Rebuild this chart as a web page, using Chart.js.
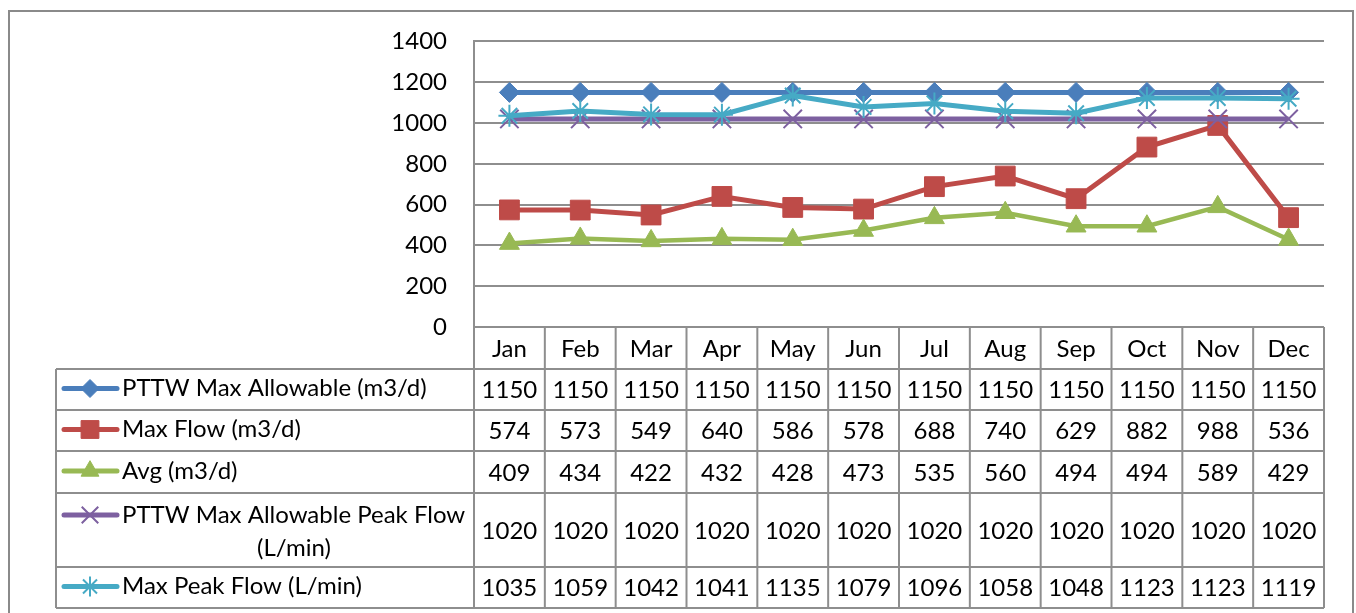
<!DOCTYPE html>
<html>
<head>
<meta charset="utf-8">
<script src="https://cdn.jsdelivr.net/npm/chart.js@4.4.0/dist/chart.umd.min.js"></script>
<style>
html, body { margin: 0; padding: 0; background: #fff; }
</style>
</head>
<body>
<canvas id="myChart" width="1356" height="613"></canvas>
<script>
// chart data
const months = ["Jan", "Feb", "Mar", "Apr", "May", "Jun", "Jul", "Aug", "Sep", "Oct", "Nov", "Dec"];
const seriesNames = [
    "PTTW Max Allowable (m3/d)",
    "Max Flow (m3/d)",
    "Avg (m3/d)",
    "PTTW Max Allowable Peak Flow (L/min)",
    "Max Peak Flow (L/min)"
];
const pttwMax = [1150, 1150, 1150, 1150, 1150, 1150, 1150, 1150, 1150, 1150, 1150, 1150];
const maxFlow = [574, 573, 549, 640, 586, 578, 688, 740, 629, 882, 988, 536];
const avgFlow = [409, 434, 422, 432, 428, 473, 535, 560, 494, 494, 589, 429];
const pttwPeak = [1020, 1020, 1020, 1020, 1020, 1020, 1020, 1020, 1020, 1020, 1020, 1020];
const maxPeak = [1035, 1059, 1042, 1041, 1135, 1079, 1096, 1058, 1048, 1123, 1123, 1119];
const yMin = 0, yMax = 1400, yStep = 200;

const allSeries = [pttwMax, maxFlow, avgFlow, pttwPeak, maxPeak];
const colors = ["#4a7ebb", "#be4b48", "#98b954", "#7d60a0", "#46aac5"];
const markers = [
    { style: "rectRot", r: 10, bw: 1 },
    { style: "rect", r: 14, bw: 1 },
    { style: "triangle", r: 11.5, bw: 1 },
    { style: "crossRot", r: 13, bw: 2 },
    { style: "star", r: 11, bw: 2 }
];

const FONT = "Lato";
const gridColor = "#8e8e8e";

const datasets = allSeries.map((vals, i) => ({
    label: seriesNames[i],
    data: vals,
    borderColor: colors[i],
    backgroundColor: colors[i],
    borderWidth: i == 2 ? 4.5 : 5,
    pointStyle: markers[i].style,
    pointRadius: markers[i].r,
    pointBorderWidth: markers[i].bw,
    pointBorderColor: colors[i],
    pointBackgroundColor: colors[i],
    tension: 0,
    order: 4 - i
}));

// data table under the plot, drawn from the x scale positions
const rowTops = [0, 42, 83, 124, 166, 240, 281];
const tableLeft = 56;

const dataTable = {
    id: "dataTable",
    afterDraw(chart) {
        const ctx = chart.ctx;
        const xs = chart.scales.x;
        const area = chart.chartArea;
        const half = (xs.getPixelForValue(1) - xs.getPixelForValue(0)) / 2;
        const colL = xs.getPixelForValue(0) - half;
        const colR = xs.getPixelForValue(months.length - 1) + half;
        const top = area.bottom;
        const ys = rowTops.map(v => top + v);

        ctx.save();
        // outer frame
        ctx.strokeStyle = "#8a8a8a";
        ctx.lineWidth = 2;
        ctx.strokeRect(9, 11, 1344, 620);

        ctx.strokeStyle = gridColor;
        ctx.lineWidth = 2;
        ctx.beginPath();
        for (let r = 1; r < ys.length; r++) {
            ctx.moveTo(tableLeft, ys[r]);
            ctx.lineTo(colR, ys[r]);
        }
        ctx.moveTo(tableLeft, ys[1]);
        ctx.lineTo(tableLeft, ys[ys.length - 1]);
        for (let c = 0; c <= months.length; c++) {
            const x = colL + c * 2 * half;
            ctx.moveTo(x, ys[0]);
            ctx.lineTo(x, ys[ys.length - 1]);
        }
        ctx.stroke();

        ctx.fillStyle = "#000";
        ctx.font = "24px " + FONT;
        ctx.textAlign = "center";
        ctx.textBaseline = "middle";
        months.forEach((m, i) => {
            ctx.fillText(m, xs.getPixelForValue(i), (ys[0] + ys[1]) / 2 + 1);
        });
        allSeries.forEach((vals, s) => {
            const yMid = (ys[s + 1] + ys[s + 2]) / 2 + 1;
            vals.forEach((v, i) => {
                ctx.fillText(String(v), xs.getPixelForValue(i), yMid);
            });

            // legend key
            ctx.strokeStyle = colors[s];
            ctx.lineWidth = 5;
            ctx.lineCap = "round";
            const ky = s == 3 ? ys[s + 1] + 22 : yMid - 2;
            ctx.beginPath();
            ctx.moveTo(64, ky);
            ctx.lineTo(117, ky);
            ctx.stroke();
            ctx.lineCap = "butt";
            ctx.fillStyle = colors[s];
            ctx.lineWidth = markers[s].bw;
            Chart.helpers.drawPoint(ctx, {
                pointStyle: markers[s].style,
                radius: markers[s].r * 0.9,
                rotation: 0,
                borderWidth: markers[s].bw
            }, 90, ky);

            ctx.fillStyle = "#000";
            ctx.textAlign = "left";
            if (s == 3) {
                ctx.fillText("PTTW Max Allowable Peak Flow", 122, ky);
                ctx.textAlign = "center";
                ctx.fillText("(L/min)", 294, ky + 33);
            } else {
                ctx.fillText(seriesNames[s], 122, yMid - 2);
            }
            ctx.textAlign = "center";
        });
        ctx.restore();
    }
};

const ctx = document.getElementById("myChart").getContext("2d");
const chart = new Chart(ctx, {
    type: "line",
    data: { labels: months, datasets: datasets },
    plugins: [dataTable],
    options: {
        responsive: false,
        animation: false,
        layout: { padding: { left: 0, top: 40, right: 32, bottom: 286 } },
        plugins: {
            legend: { display: false },
            tooltip: { enabled: false }
        },
        scales: {
            x: {
                type: "category",
                offset: true,
                display: false
            },
            y: {
                min: yMin,
                max: yMax,
                afterFit(scale) { scale.width = 474; },
                ticks: {
                    stepSize: yStep,
                    padding: 27,
                    color: "#000",
                    font: { family: FONT, size: 24 },
                    callback: v => String(v)
                },
                grid: { color: gridColor, lineWidth: 2, drawTicks: false },
                border: { display: true, color: gridColor, width: 2 }
            }
        }
    }
});
</script>
</body>
</html>
